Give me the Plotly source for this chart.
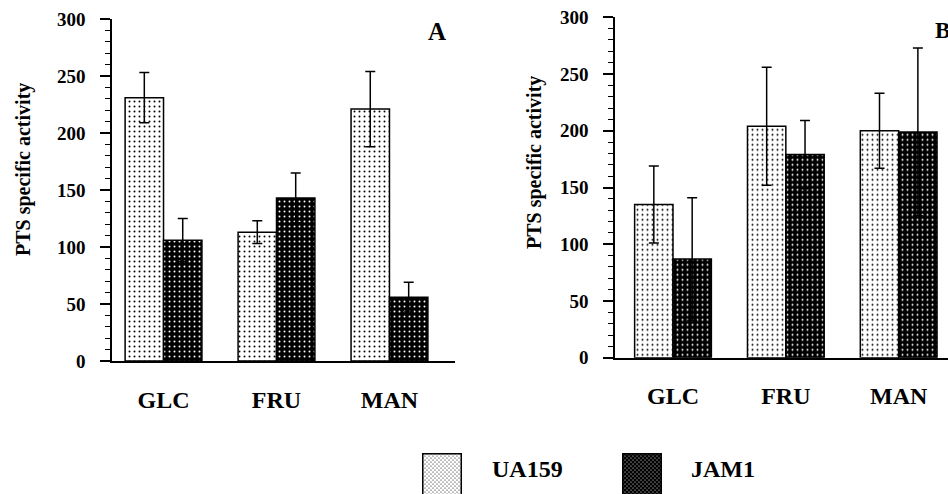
import base64
import plotly.graph_objects as go

categories = ["GLC", "FRU", "MAN"]
series_names = ["UA159", "JAM1"]

a_ua159 = [231, 113, 221]
a_ua159_err = [22, 10, 33]
a_jam1 = [106, 143, 56]
a_jam1_err = [19, 22, 13]

b_ua159 = [135, 204, 200]
b_ua159_err = [34, 52, 33]
b_jam1 = [87, 179, 199]
b_jam1_err = [54, 30, 74]

y_ticks = [0, 50, 100, 150, 200, 250, 300]
panel_labels = ["A", "B"]
y_title = "PTS specific activity"

W, H = 948, 494
FONT = "Liberation Serif"


def px(x):
    return x / W


def py(y):
    return 1 - y / H


light = dict(color="white", line=dict(color="black", width=1.5),
             pattern=dict(shape=".", size=5, solidity=0.12, fgcolor="black",
                          bgcolor="white", fillmode="replace"))
dark = dict(color="black", line=dict(color="black", width=1.5),
            pattern=dict(shape=".", size=5, solidity=0.12, fgcolor="white",
                         bgcolor="black", fillmode="replace"))


def err(v):
    return dict(type="data", array=v, visible=True, color="black",
                thickness=1.5, width=5)


fig = go.Figure()
fig.add_trace(go.Bar(x=categories, y=a_ua159, error_y=err(a_ua159_err),
                     marker=light, name=series_names[0], xaxis="x", yaxis="y"))
fig.add_trace(go.Bar(x=categories, y=a_jam1, error_y=err(a_jam1_err),
                     marker=dark, name=series_names[1], xaxis="x", yaxis="y"))
fig.add_trace(go.Bar(x=categories, y=b_ua159, error_y=err(b_ua159_err),
                     marker=light, name=series_names[0], xaxis="x2", yaxis="y2"))
fig.add_trace(go.Bar(x=categories, y=b_jam1, error_y=err(b_jam1_err),
                     marker=dark, name=series_names[1], xaxis="x2", yaxis="y2"))

tickfont = dict(family=FONT, size=19, color="black", weight="bold")
catfont = dict(family=FONT, size=24, color="black", weight="bold")


def yax(domain):
    return dict(domain=domain, range=[0, 300], tickvals=y_ticks,
                ticks="outside", ticklen=10, tickwidth=1.5, tickcolor="black",
                showline=True, linewidth=1.5, linecolor="black",
                showgrid=False, zeroline=False, tickfont=tickfont,
                ticklabelstandoff=11, ticklabeloverflow="allow",
                minor=dict(dtick=10, ticks="outside", ticklen=5,
                           tickwidth=1.2, tickcolor="black", showgrid=False))


def xax(domain, rng, anchor):
    return dict(domain=domain, range=rng, anchor=anchor, showline=True,
                linewidth=1.5, linecolor="black", ticks="", showgrid=False,
                zeroline=False, tickfont=catfont, ticklabelstandoff=16,
                ticklabeloverflow="allow")


fig.update_layout(
    width=W, height=H, margin=dict(l=0, r=0, t=0, b=0, autoexpand=False),
    paper_bgcolor="white", plot_bgcolor="white",
    barmode="group", bargap=0.32, bargroupgap=0, showlegend=False,
    xaxis=xax([px(112), px(455)], [-0.456, 2.58], "y"),
    yaxis=yax([py(361), py(19)]),
    xaxis2=xax([px(615), 1.0], [-0.514, 2.437], "y2"),
    yaxis2=dict(yax([py(357.7), py(17.3)]), anchor="x2"),
)


def note(x, y, text, font, angle=0, xanchor="center"):
    fig.add_annotation(x=px(x), y=py(y), xref="paper", yref="paper",
                       text=text, textangle=angle, showarrow=False, font=font,
                       xanchor=xanchor, yanchor="middle")


ann_font = dict(family=FONT, size=20, color="black", weight="bold")
note(23, 170, y_title, ann_font, angle=-90)
note(535, 163, y_title, ann_font, angle=-90)
lab_font = dict(family=FONT, size=25, color="black", weight="bold")
note(437, 32, panel_labels[0], lab_font)
note(933, 31, panel_labels[1], dict(lab_font, size=23), xanchor="left")

leg_font = dict(family=FONT, size=24, color="black", weight="bold")
note(527, 469, series_names[0], leg_font)
note(723, 469, series_names[1], leg_font)


def swatch(bg, fg):
    svg = (
        '<svg xmlns="http://www.w3.org/2000/svg" width="40" height="44">'
        '<defs><pattern id="p" width="4" height="4" patternUnits="userSpaceOnUse">'
        f'<rect width="4" height="4" fill="{bg}"/>'
        f'<circle cx="1" cy="1" r="0.6" fill="{fg}"/>'
        f'<circle cx="3" cy="3" r="0.6" fill="{fg}"/>'
        '</pattern></defs>'
        '<rect x="0.75" y="0.75" width="38.5" height="43" fill="url(#p)" '
        'stroke="black" stroke-width="1.5"/></svg>'
    )
    return "data:image/svg+xml;base64," + base64.b64encode(svg.encode()).decode()


for x0, bg, fg in [(422, "white", "black"), (622, "black", "white")]:
    fig.add_layout_image(source=swatch(bg, fg), xref="paper", yref="paper",
                         x=px(x0), y=py(453), sizex=40 / W, sizey=44 / H,
                         xanchor="left", yanchor="top", sizing="stretch",
                         layer="above")

fig.write_html(
    "out.html",
    config=dict(displayModeBar=False),
    post_script="document.body.style.margin='0';"
                "document.body.style.overflow='hidden';",
)
